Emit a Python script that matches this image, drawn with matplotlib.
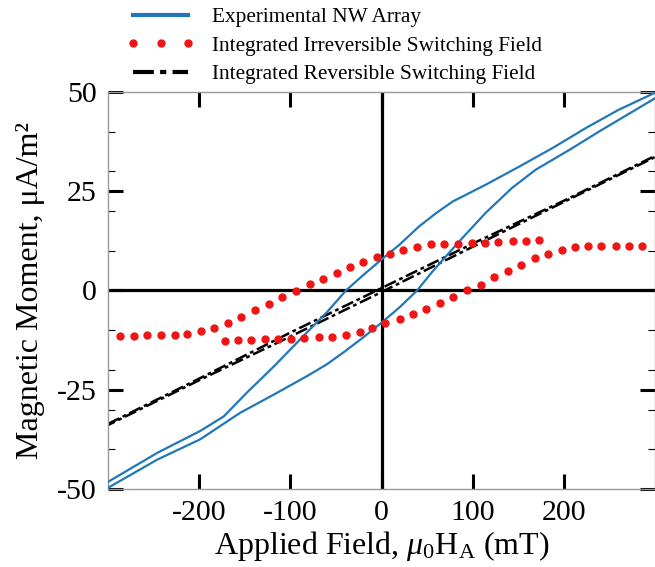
import numpy as np
import matplotlib
matplotlib.use("Agg")
from matplotlib import pyplot as plt

plt.rcParams['font.family'] = 'Liberation Serif'
plt.rcParams['mathtext.fontset'] = 'custom'
plt.rcParams['mathtext.rm'] = 'Liberation Serif'
plt.rcParams['mathtext.it'] = 'Liberation Serif:italic'
plt.rcParams['axes.unicode_minus'] = False

# experimental NW array loop (mT, uA/m^2)
h_desc = [-300, -246, -199, -173, -148, -118, -93, -82, -60, -39, -20, 0,
          20, 41, 60, 78, 114, 151, 187, 224, 260, 300]
m_desc = [-48.2, -40.9, -35.4, -31.7, -25.8, -19.1, -13.2, -10.6, -5.5, 0.0, 3.9, 7.8,
          11.6, 16.1, 19.5, 22.4, 26.6, 31.2, 35.8, 40.9, 45.5, 49.8]
h_asc = [-300, -246, -199, -155, -118, -82, -60, -40, -20, 0, 20, 39, 56,
         85, 114, 143, 169, 206, 242, 300]
m_asc = [-49.7, -42.6, -37.5, -30.8, -26.2, -21.6, -18.6, -15.3, -11.8, -8.1, -4.2, 0.0, 4.8,
         12.3, 19.5, 25.8, 30.4, 35.4, 40.5, 48.4]

# integrated irreversible switching field
irr_h_desc = [-287, -272, -257, -242, -227, -213, -198, -184, -168, -154, -139, -124, -109,
              -94, -79, -64, -49, -35, -20, -5, 9, 24, 39, 54, 69, 84, 99, 113, 128, 144,
              158, 173]
irr_m_desc = [-11.5, -11.5, -11.3, -11.3, -11.3, -10.9, -10.2, -9.4, -8.1, -6.6, -5.0, -3.4,
              -1.6, -0.2, 1.6, 3.0, 4.4, 5.9, 7.1, 8.4, 9.3, 10.3, 11.0, 11.6, 11.8, 11.8,
              12.0, 12.0, 12.2, 12.4, 12.4, 12.7]
irr_h_asc = [-172, -158, -143, -128, -114, -99, -85, -69, -54, -39, -24, -10, 4, 20, 34, 49,
             64, 78, 94, 109, 123, 139, 153, 168, 183, 198, 212, 227, 241, 257, 271, 286]
irr_m_asc = [-12.7, -12.5, -12.5, -12.3, -12.2, -12.1, -11.9, -11.8, -11.6, -11.2, -10.5,
             -9.4, -8.3, -7.1, -6.0, -4.6, -3.1, -1.6, 0.1, 1.5, 3.4, 5.0, 6.5, 8.1, 9.2,
             10.3, 10.9, 11.2, 11.2, 11.2, 11.2, 11.3]

# integrated reversible switching field
rev_h = [-300, -200, -100, 0, 100, 200, 300]
rev_m_desc = [-33.6, -22.2, -10.6, 0.6, 11.8, 22.6, 33.9]
rev_m_asc = [-33.9, -22.6, -11.6, -0.4, 11.0, 22.3, 33.6]

blue = '#2177b8'
red = '#f01414'

fig = plt.figure(figsize=(6.55, 5.67), dpi=100)
ax = fig.add_axes([0.165, 0.1376, 0.835, 0.7002])

ax.axhline(0, color='k', lw=2.3, zorder=1)
ax.axvline(0, color='k', lw=2.3, zorder=1)

ax.plot(h_desc, m_desc, color=blue, lw=1.6, label='Experimental NW Array', zorder=3)
ax.plot(h_asc, m_asc, color=blue, lw=1.6, zorder=3)
ax.plot(irr_h_desc, irr_m_desc, ls='none', marker='o', ms=5, color=red, mec=red,
        label='Integrated Irreversible Switching Field', zorder=4)
ax.plot(irr_h_asc, irr_m_asc, ls='none', marker='o', ms=5, color=red, mec=red, zorder=4)
ax.plot(rev_h, rev_m_desc, color='k', lw=1.8, ls=(0, (5, 1.5, 1.5, 1.5)),
        label='Integrated Reversible Switching Field', zorder=2)
ax.plot(rev_h, rev_m_asc, color='k', lw=1.8, ls=(2, (5, 1.5, 1.5, 1.5)), zorder=2)

ax.set_xlim(-300, 300)
ax.set_ylim(-50, 50)
ax.set_xticks([-200, -100, 0, 100, 200])
ax.set_yticks([-50, -25, 0, 25, 50])
ax.set_yticks([-40, -30, -20, -10, 10, 20, 30, 40], minor=True)
ax.tick_params(which='major', direction='in', length=11, width=2.2, top=True, right=True,
               labelsize=21.5, pad=8)
ax.tick_params(which='minor', direction='in', length=5, width=0.8, right=True)
for s in ax.spines.values():
    s.set_color('#999999')
    s.set_linewidth(1)

ax.set_xlabel('Applied Field, $\\mu_0$H$_\\mathrm{A}$ (mT)', fontsize=23, labelpad=2)
ax.set_ylabel('Magnetic Moment, μA/m²', fontsize=23, labelpad=9)

leg = fig.legend(loc='upper left', bbox_to_anchor=(0.194, 0.987), frameon=False, fontsize=15.3,
                 handlelength=3.15, handletextpad=0.85, labelspacing=0.41, numpoints=3,
                 borderpad=0, borderaxespad=0)
leg.get_lines()[0].set_linewidth(3)
leg.get_lines()[2].set_linewidth(3)

fig.savefig('out.png', dpi=100)
